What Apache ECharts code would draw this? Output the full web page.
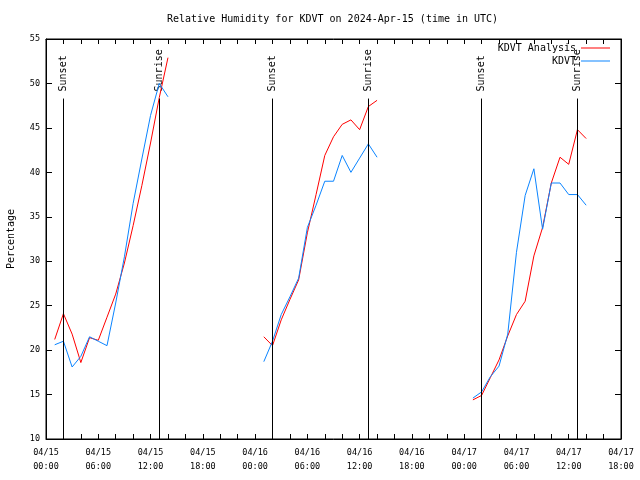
<!DOCTYPE html>
<html><head><meta charset="utf-8">
<script src="https://cdn.jsdelivr.net/npm/echarts@6/dist/echarts.min.js"></script>
<style>html,body{margin:0;padding:0;background:#fff}#c{width:640px;height:480px}</style>
</head><body><div id="c"></div><script>
const times = [
  '2024-04-15T01:00Z','2024-04-15T02:00Z','2024-04-15T03:00Z','2024-04-15T04:00Z','2024-04-15T05:00Z','2024-04-15T06:00Z','2024-04-15T07:00Z',
  '2024-04-15T08:00Z','2024-04-15T09:00Z','2024-04-15T10:00Z','2024-04-15T11:00Z','2024-04-15T12:00Z','2024-04-15T13:00Z','2024-04-15T14:00Z',
  '2024-04-16T01:00Z','2024-04-16T02:00Z','2024-04-16T03:00Z','2024-04-16T04:00Z','2024-04-16T05:00Z','2024-04-16T06:00Z','2024-04-16T07:00Z',
  '2024-04-16T08:00Z','2024-04-16T09:00Z','2024-04-16T10:00Z','2024-04-16T11:00Z','2024-04-16T12:00Z','2024-04-16T13:00Z','2024-04-16T14:00Z',
  '2024-04-17T01:00Z','2024-04-17T02:00Z','2024-04-17T03:00Z','2024-04-17T04:00Z','2024-04-17T05:00Z','2024-04-17T06:00Z','2024-04-17T07:00Z',
  '2024-04-17T08:00Z','2024-04-17T09:00Z','2024-04-17T10:00Z','2024-04-17T11:00Z','2024-04-17T12:00Z','2024-04-17T13:00Z','2024-04-17T14:00Z'
];
const analysisRH = [
  21.2, 24.1, 21.8, 18.6, 21.4, 21.1, 23.7, 26.3, 29.8, 34.0, 38.5, 43.3, 48.4, 52.9,
  21.5, 20.5, 23.4, 25.7, 27.9, 33.2, 37.5, 41.9, 44.0, 45.4, 45.9, 44.8, 47.4, 48.1,
  14.4, 14.9, 16.9, 18.9, 21.6, 24.0, 25.5, 30.6, 33.8, 38.8, 41.7, 40.9, 44.8, 43.8
];
const observedRH = [
  20.6, 21.0, 18.1, 19.3, 21.5, 21.0, 20.5, 25.3, 30.5, 36.5, 41.5, 46.4, 50.0, 48.5,
  18.7, 21.0, 24.0, 26.0, 28.1, 33.8, 36.3, 39.0, 39.0, 41.9, 40.0, 41.6, 43.2, 41.7,
  14.6, 15.3, 17.0, 18.2, 21.8, 31.0, 37.4, 40.4, 33.6, 38.8, 38.8, 37.5, 37.5, 36.3
];
const sunsetTimes = ['2024-04-15T02:00Z','2024-04-16T02:00Z','2024-04-17T02:00Z'];
const sunriseTimes = ['2024-04-15T13:00Z','2024-04-16T13:00Z','2024-04-17T13:00Z'];
const xTickLabels = ['04/15\n00:00','04/15\n06:00','04/15\n12:00','04/15\n18:00',
  '04/16\n00:00','04/16\n06:00','04/16\n12:00','04/16\n18:00',
  '04/17\n00:00','04/17\n06:00','04/17\n12:00','04/17\n18:00'];
const seriesNames = ['KDVT Analysis', 'KDVT'];

const FONT = 'DejaVu Sans Mono';
const H = 3600 * 1000;
const t0 = Date.parse('2024-04-15T00:00Z');
const tEnd = Date.parse('2024-04-17T18:00Z');

function withBreaks(vals) {
  const out = [];
  for (let i = 0; i < times.length; i++) {
    const t = Date.parse(times[i]);
    if (i > 0 && t - Date.parse(times[i - 1]) > 1.5 * H) out.push([t - H, '-']);
    out.push([t, vals[i]]);
  }
  return out;
}
const events = sunsetTimes.map(s => ({t: Date.parse(s), name: 'Sunset'}))
  .concat(sunriseTimes.map(s => ({t: Date.parse(s), name: 'Sunrise'})));

const chart = echarts.init(document.getElementById('c'), null, {renderer: 'canvas'});
const tickFont = {fontFamily: FONT, fontSize: 8.5, color: '#000'};
const legendText = {fontFamily: FONT, fontSize: 10, color: '#000'};
chart.setOption({
  animation: false,
  backgroundColor: '#fff',
  title: {
    text: 'Relative Humidity for KDVT on 2024-Apr-15 (time in UTC)',
    left: 167, top: 14, padding: 0,
    textStyle: {fontFamily: FONT, fontSize: 10, fontWeight: 'normal', color: '#000'}
  },
  legend: [
    {data: [seriesNames[0]], right: 30, top: 43, padding: 0, icon: 'rect', itemWidth: 29, itemHeight: 1, align: 'right',
     selectedMode: false, textStyle: legendText},
    {data: [seriesNames[1]], right: 30, top: 56, padding: 0, icon: 'rect', itemWidth: 29, itemHeight: 1, align: 'right',
     selectedMode: false, textStyle: legendText}
  ],
  grid: {left: 46, right: 19, top: 39, bottom: 41, containLabel: false, outerBoundsMode: 'none',
    show: true, borderColor: '#000', borderWidth: 1, backgroundColor: '#fff'},
  xAxis: [
    {type: 'value', min: t0, max: tEnd, interval: 2 * H, position: 'bottom',
     axisLine: {show: true, lineStyle: {color: '#000'}},
     axisTick: {show: true, inside: true, length: 5, lineStyle: {color: '#000'}},
     splitLine: {show: false},
     axisLabel: Object.assign({margin: 7, lineHeight: 14, showMinLabel: true, showMaxLabel: true, hideOverlap: false,
       formatter: v => { const k = Math.round((v - t0) / H); return (k % 6 === 0) ? xTickLabels[k / 6] : ''; }}, tickFont)},
    {type: 'value', min: t0, max: tEnd, interval: 2 * H, position: 'top',
     axisLine: {show: true, lineStyle: {color: '#000'}},
     axisTick: {show: true, inside: true, length: 5, lineStyle: {color: '#000'}},
     splitLine: {show: false}, axisLabel: {show: false}}
  ],
  yAxis: [
    {type: 'value', min: 10, max: 55, interval: 5, position: 'left',
     name: 'Percentage', nameLocation: 'middle', nameGap: 30, nameRotate: 90,
     nameTextStyle: {fontFamily: FONT, fontSize: 10, color: '#000'},
     axisLine: {show: true, lineStyle: {color: '#000'}},
     axisTick: {show: true, inside: true, length: 6, lineStyle: {color: '#000'}},
     splitLine: {show: false},
     axisLabel: Object.assign({margin: 6}, tickFont)},
    {type: 'value', min: 10, max: 55, interval: 5, position: 'right',
     axisLine: {show: true, lineStyle: {color: '#000'}},
     axisTick: {show: true, inside: true, length: 6, lineStyle: {color: '#000'}},
     splitLine: {show: false}, axisLabel: {show: false}}
  ],
  series: [
    {type: 'line', name: 'events', data: [], silent: true,
     markLine: {silent: true, symbol: ['none', 'none'], label: {show: false}, animation: false,
       lineStyle: {color: '#000', width: 1, type: 'solid', opacity: 1},
       data: events.map(e => [{coord: [e.t, 10]}, {coord: [e.t, 48.3]}])}},
    {type: 'scatter', name: 'eventLabels', silent: true, symbolSize: 1, itemStyle: {color: 'rgba(255,255,255,0)'},
     data: events.map(e => ({name: e.name, value: [e.t, 49.1]})),
     label: {show: true, formatter: '{b}', position: 'inside', rotate: 90, align: 'left', verticalAlign: 'middle',
       color: '#000', textBorderWidth: 0, textBorderColor: 'transparent', opacity: 1,
       fontFamily: FONT, fontSize: 10}},
    {type: 'line', name: seriesNames[0], data: withBreaks(analysisRH), showSymbol: false, connectNulls: false,
     color: '#ff0000', lineStyle: {color: '#ff0000', width: 1}},
    {type: 'line', name: seriesNames[1], data: withBreaks(observedRH), showSymbol: false, connectNulls: false,
     color: '#0a84ff', lineStyle: {color: '#0a84ff', width: 1}}
  ]
});
</script></body></html>
